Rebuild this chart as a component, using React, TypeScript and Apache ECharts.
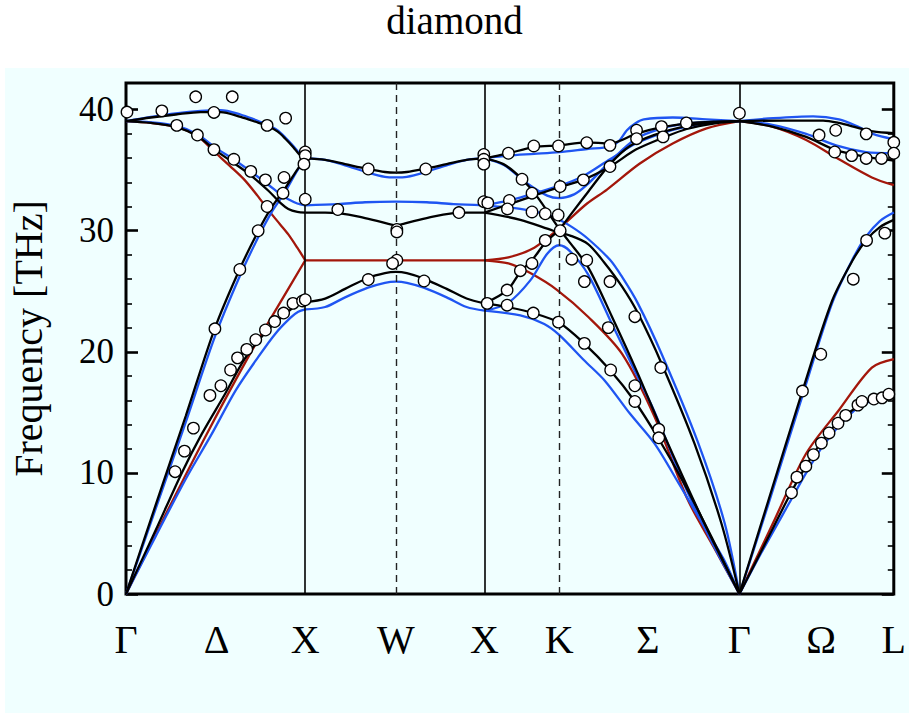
import React, { useEffect, useRef } from "react";
import * as echarts from "echarts";

// Path coordinate q along Γ–X–W–X–K–Γ–L (arbitrary length units), frequency in THz.
const kLabelPos = [0, 91, 180, 271, 360, 435, 524, 616, 698, 771];
const kLabels = ["Γ", "Δ", "X", "W", "X", "K", "Σ", "Γ", "Ω", "L"];
const solidLinesAt = [180, 360, 616];
const dashedLinesAt = [271, 435];
const yTicks = [0, 10, 20, 30, 40];
const yMinorTicks = [2, 4, 6, 8, 12, 14, 16, 18, 22, 24, 26, 28, 32, 34, 36, 38];

// ---- black model ----
const blackGX = [
  [[0, 39.05], [25, 39.35], [50, 39.6], [75, 39.8], [95, 39.8], [115, 39.4], [130, 39.0], [142, 38.65], [152, 38.2], [160, 37.6], [168, 36.9], [174, 36.3], [180, 35.97]],
  [[0, 39.05], [25, 38.9], [51, 38.55], [72, 37.8], [89, 36.7], [108, 35.6], [125, 34.6], [143, 33.3], [155, 32.3], [163, 31.8], [172, 31.55], [180, 31.5]],
  [[0, 0], [30, 7.4], [60, 14.7], [89, 21.9], [114, 26.8], [133, 30.0], [146, 31.9], [159, 33.4], [170, 34.8], [180, 35.97]],
  [[0, 0], [30, 5.3], [56, 10.0], [76, 13.2], [100, 16.6], [119, 19.4], [140, 21.6], [160, 23.1], [172, 23.9], [180, 24.1]],
];
const blackXWX = [
  [[180, 35.97], [200, 35.85], [220, 35.5], [243, 35.1], [260, 34.85], [271, 34.8], [282, 34.85], [299, 35.1], [322, 35.5], [342, 35.85], [360, 35.97]],
  [[180, 31.5], [200, 31.5], [213, 31.45], [235, 31.15], [255, 30.75], [271, 30.45], [287, 30.75], [307, 31.15], [329, 31.45], [342, 31.5], [360, 31.5]],
  [[180, 24.1], [200, 24.4], [220, 25.2], [243, 26.1], [260, 26.5], [271, 26.6], [282, 26.5], [299, 26.05], [322, 25.2], [342, 24.4], [360, 24.0]],
];
const blackXKG = [
  [[360, 35.97], [384, 36.4], [410, 36.9], [435, 37.05], [462, 37.3], [486, 37.2], [512, 38.0], [538, 38.55], [563, 38.85], [590, 39.0], [616, 39.05]],
  [[360, 24.0], [383, 25.1], [396, 26.6], [408, 27.6], [421, 29.0], [435, 30.1], [449, 31.6], [463, 33.1], [486, 35.5], [506, 37.0], [530, 37.9], [560, 38.6], [590, 38.95], [616, 39.05]],
  [[360, 31.5], [385, 32.2], [410, 32.9], [435, 33.6], [459, 34.2], [486, 35.3], [512, 36.7], [540, 37.7], [563, 38.4], [590, 38.85], [616, 39.05]],
  [[360, 35.97], [379, 35.5], [396, 34.4], [413, 32.8], [433, 30.4], [444, 29.2], [464, 27.0], [488, 22.9], [514, 18.2], [541, 13.0], [581, 5.8], [616, 0]],
  [[360, 31.5], [396, 30.9], [429, 30.0], [446, 29.6], [464, 28.9], [480, 27.4], [498, 25.4], [514, 23.2], [538, 19.0], [571, 12.4], [598, 5.8], [616, 0]],
  [[360, 24.0], [383, 23.7], [409, 23.2], [435, 22.4], [460, 20.7], [486, 18.5], [511, 15.9], [535, 12.8], [560, 9.2], [588, 4.7], [616, 0]],
];
const blackGL = [
  [[616, 39.05], [660, 39.1], [700, 39.1], [716, 38.9], [735, 38.5], [750, 38.2], [771, 38.05]],
  [[616, 39.05], [649, 38.6], [683, 37.75], [713, 36.65], [743, 36.1], [771, 35.8]],
  [[616, 0], [645, 7.7], [679, 16.7], [709, 24.2], [730, 27.6], [743, 29.2], [757, 30.3], [771, 30.9]],
  [[616, 0], [642, 4.2], [668, 8.4], [683, 10.6], [698, 12.5], [715, 14.2], [735, 15.5], [751, 16.1], [771, 16.5]],
];

// ---- blue model ----
const blueGX = [
  [[0, 39.05], [25, 39.4], [50, 39.7], [75, 39.9], [95, 39.95], [115, 39.6], [130, 39.15], [142, 38.75], [152, 38.3], [160, 37.7], [168, 37.0], [174, 36.4], [180, 36.0]],
  [[0, 39.05], [25, 38.95], [51, 38.65], [72, 37.95], [89, 36.9], [108, 35.9], [125, 34.9], [143, 33.8], [155, 33.0], [163, 32.6], [172, 32.25], [180, 32.1]],
  [[0, 0], [30, 7.1], [60, 14.2], [89, 21.2], [114, 26.2], [133, 29.5], [146, 31.5], [159, 33.1], [170, 34.7], [180, 36.0]],
  [[0, 0], [30, 4.8], [60, 9.5], [86, 13.2], [110, 16.8], [133, 19.6], [150, 21.5], [165, 22.8], [173, 23.3], [180, 23.5]],
];
const blueXWX = [
  [[180, 36.0], [200, 35.85], [220, 35.4], [243, 34.8], [260, 34.45], [271, 34.4], [282, 34.45], [299, 34.8], [322, 35.4], [342, 35.85], [360, 36.0]],
  [[180, 32.1], [213, 32.2], [240, 32.35], [271, 32.4], [302, 32.35], [329, 32.2], [360, 32.1]],
  [[180, 23.5], [200, 23.7], [220, 24.5], [243, 25.3], [260, 25.7], [271, 25.8], [282, 25.7], [299, 25.3], [322, 24.5], [342, 23.7], [360, 23.4]],
];
const blueXKG = [
  [[360, 36.0], [384, 36.2], [410, 36.35], [435, 36.5], [463, 36.75], [486, 36.95], [495, 37.4], [503, 38.3], [512, 38.9], [520, 39.2], [549, 39.35], [583, 39.2], [616, 39.05]],
  [[360, 36.0], [380, 35.4], [403, 33.9], [423, 32.9], [435, 32.7], [450, 33.0], [463, 33.8], [486, 35.7], [512, 37.6], [540, 38.5], [563, 38.85], [590, 39.0], [616, 39.05]],
  [[360, 32.1], [396, 31.8], [420, 31.4], [435, 30.9], [448, 30.3], [463, 29.4], [486, 27.6], [498, 26.2], [514, 24.0], [538, 19.8], [574, 12.6], [601, 5.9], [616, 0]],
  [[360, 32.1], [385, 32.5], [410, 33.1], [435, 33.7], [459, 34.5], [486, 35.9], [512, 37.2], [540, 38.1], [563, 38.6], [590, 38.95], [616, 39.05]],
  [[360, 23.4], [383, 24.0], [406, 25.9], [423, 28.1], [435, 28.8], [446, 28.3], [464, 26.4], [488, 22.3], [514, 17.9], [531, 15.0], [564, 8.4], [590, 4.0], [616, 0]],
  [[360, 23.4], [396, 23.0], [420, 22.3], [435, 21.4], [460, 19.3], [481, 17.6], [506, 14.9], [531, 12.4], [556, 9.0], [581, 5.5], [600, 2.9], [616, 0]],
];
const blueGL = [
  [[616, 39.05], [650, 39.3], [690, 39.45], [716, 39.2], [735, 38.6], [750, 38.0], [771, 37.55]],
  [[616, 39.05], [649, 38.75], [683, 38.0], [713, 37.05], [743, 36.5], [771, 36.4]],
  [[616, 0], [645, 7.4], [679, 16.3], [709, 24.0], [730, 27.7], [743, 29.5], [757, 30.8], [771, 31.5]],
  [[616, 0], [640, 3.7], [668, 7.8], [683, 10.0], [698, 12.0], [715, 13.8], [735, 15.4], [751, 16.0], [771, 16.4]],
];

// ---- red model ----
const redGX = [
  [[0, 39.05], [25, 38.9], [51, 38.55], [72, 37.8], [89, 36.5], [105, 35.3], [119, 34.2], [132, 32.9], [143, 31.7], [155, 30.5], [163, 29.7], [172, 28.6], [180, 27.56]],
  [[0, 0], [40, 6.6], [81, 13.2], [123, 19.6], [150, 23.4], [180, 27.56]],
];
const redXWX = [[[180, 27.56], [271, 27.56], [360, 27.56]]];
const redXKG = [
  [[360, 27.56], [384, 27.8], [410, 28.6], [435, 30.2], [463, 32.25], [483, 33.4], [516, 35.55], [549, 37.2], [583, 38.45], [616, 39.05]],
  [[360, 27.56], [384, 27.3], [406, 26.5], [433, 25.1], [464, 22.9], [498, 19.85], [531, 14.6], [564, 7.8], [590, 3.9], [616, 0]],
];
const redGL = [
  [[616, 39.05], [649, 38.6], [683, 37.5], [716, 35.9], [749, 34.4], [771, 33.76]],
  [[616, 0], [650, 5.9], [683, 11.6], [716, 15.2], [749, 18.7], [771, 19.4]],
];

// ---- measured frequencies ----
const measured = [
  [1, 39.8], [36, 39.9], [70, 41.06], [106.7, 41.06], [88.3, 39.77], [51, 38.7], [71.7, 37.9], [88.3, 36.7], [108.3, 35.9], [125.3, 34.9], [140, 34.2], [141.7, 38.7], [160.3, 39.3], [158.7, 34.4], [157.7, 33.1], [141.7, 32.0], [132.7, 30.0], [180, 36.5], [180, 36.2], [178.7, 35.5], [180, 32.6],
  [114.3, 26.8], [89.3, 21.9], [67.7, 13.7], [58.7, 11.8], [49.3, 10.1], [84.3, 16.4], [95.3, 17.2], [105, 18.5], [112, 19.5], [121.3, 20.2], [130.3, 21.0], [140, 21.8], [149.3, 22.5], [158.3, 23.2], [167.7, 24.0], [177.3, 24.2], [180, 24.3],
  [243.3, 35.1], [301, 35.1], [212.7, 31.75], [272, 30.1], [272, 29.9], [334.3, 31.5], [272, 27.56], [267.7, 27.3], [243.3, 25.97], [299.3, 25.85], [359.3, 36.3], [359.3, 35.9], [359.3, 35.5], [359.3, 32.4], [363.3, 32.3], [362.7, 24.0],
  [384, 36.4], [409.5, 37.0], [434.3, 37.0], [397.7, 34.25], [407.7, 33.1], [436, 33.65], [385, 32.5], [383, 31.8], [407.7, 31.55], [421, 31.4], [434, 31.3], [436, 30.0], [421, 29.2], [407.7, 27.3], [396, 26.7], [382.7, 25.1], [382.7, 23.85], [409, 23.2], [434.3, 22.45],
  [462.7, 37.27], [486, 37.05], [512.7, 38.3], [512.7, 37.6], [537.7, 38.6], [539.3, 37.75], [562.7, 38.9], [616, 39.7], [459.3, 34.2], [486, 35.3],
  [447.7, 27.65], [462.7, 27.56], [460.3, 25.8], [486, 25.8], [511, 22.9], [484.3, 22.0], [460.3, 20.7], [486.7, 18.5], [537, 18.7], [511, 17.2], [511, 15.9], [535, 13.6], [535, 12.9],
  [696, 37.9], [712.7, 38.3], [743.3, 38.0], [771, 37.3], [711.7, 36.5], [728.7, 36.2], [743.3, 35.97], [758.7, 35.97], [771, 36.4],
  [743.7, 29.2], [762, 29.8], [730.3, 26.0], [679.3, 16.76], [697.7, 19.8],
  [668.3, 8.36], [673.7, 9.65], [682.7, 10.56], [690.3, 11.5], [698.3, 12.46], [706, 13.3], [715, 14.1], [722.7, 14.75], [735, 15.6], [739, 15.9], [751, 16.1], [759.3, 16.2], [766, 16.5],
];

const FONT = '"Liberation Serif", "DejaVu Serif", serif';
const RED = "#a3170b";
const BLUE = "#1f55f2";
const BLACK = "#000000";
const Y_MAX = 42.2;

const models = [
  { color: RED, z: 2, branches: [...redGX, ...redXWX, ...redXKG, ...redGL] },
  { color: BLUE, z: 3, branches: [...blueGX, ...blueXWX, ...blueXKG, ...blueGL] },
  { color: BLACK, z: 4, branches: [...blackGX, ...blackXWX, ...blackXKG, ...blackGL] },
];

function yAxisDef(position: "left" | "right", major: boolean, withLabels: boolean) {
  return {
    type: "value",
    position,
    min: 0,
    max: Y_MAX,
    interval: 10,
    splitLine: { show: false },
    axisLine: { show: false },
    axisTick: {
      show: true,
      inside: true,
      length: major ? 12 : 6,
      customValues: major ? yTicks : yMinorTicks,
      lineStyle: { color: "#000", width: major ? 2.6 : 1.6 },
    },
    axisLabel: withLabels
      ? {
          show: true,
          customValues: yTicks,
          fontFamily: FONT,
          fontSize: 35,
          color: "#000",
          margin: 12,
        }
      : { show: false },
  };
}

export default function App() {
  const ref = useRef<HTMLDivElement>(null);

  useEffect(() => {
    if (!ref.current) return;
    const chart = echarts.init(ref.current, null, { renderer: "svg" });

    const lineSeries = models.flatMap((m) =>
      m.branches.map((b) => ({
        type: "line",
        data: b,
        smooth: 0.3,
        showSymbol: false,
        silent: true,
        z: m.z,
        lineStyle: { color: m.color, width: 2.3 },
      }))
    );

    chart.setOption({
      animation: false,
      title: {
        text: "diamond",
        left: "center",
        top: 2,
        padding: 0,
        textStyle: { fontFamily: FONT, fontSize: 39, lineHeight: 36, fontWeight: "normal", color: "#000" },
      },
      graphic: [
        {
          type: "rect",
          z: -10,
          silent: true,
          shape: { x: 5, y: 68, width: 904, height: 645 },
          style: { fill: "#f0ffff" },
        },
      ],
      grid: {
        left: 124,
        right: 14,
        top: 83,
        bottom: 120,
        show: true,
        borderColor: "#000",
        borderWidth: 3,
        backgroundColor: "transparent",
      },
      xAxis: {
        type: "value",
        min: 0,
        max: 771,
        splitLine: { show: false },
        axisLine: { show: false },
        axisTick: { show: false },
        axisLabel: {
          customValues: kLabelPos,
          formatter: (v: number) => {
            const i = kLabelPos.indexOf(v);
            return i >= 0 ? kLabels[i] : "";
          },
          fontFamily: FONT,
          fontSize: 40,
          color: "#000",
          margin: 25,
        },
      },
      yAxis: [
        {
          ...yAxisDef("left", true, true),
          name: "Frequency [THz]",
          nameLocation: "middle",
          nameGap: 78,
          nameTextStyle: { fontFamily: FONT, fontSize: 40, color: "#000" },
        },
        yAxisDef("left", false, false),
        yAxisDef("right", true, false),
        yAxisDef("right", false, false),
      ],
      series: [
        {
          type: "line",
          data: [],
          z: 1,
          silent: true,
          markLine: {
            silent: true,
            symbol: ["none", "none"],
            label: { show: false },
            data: [
              ...solidLinesAt.map((x) => ({ xAxis: x, lineStyle: { color: "#000", width: 1.6, type: "solid" } })),
              ...dashedLinesAt.map((x) => ({ xAxis: x, lineStyle: { color: "#222", width: 1.4, type: [7, 5] } })),
            ],
          },
        },
        ...lineSeries,
        {
          type: "scatter",
          data: measured,
          z: 6,
          silent: true,
          symbol: "circle",
          symbolSize: 11.5,
          itemStyle: { color: "#ffffff", borderColor: "#000", borderWidth: 1.3, opacity: 1 },
        },
      ],
    });

    return () => chart.dispose();
  }, []);

  return (
    <div
      ref={ref}
      style={{ position: "fixed", left: 0, top: 0, width: 909, height: 714, background: "#ffffff" }}
    />
  );
}
